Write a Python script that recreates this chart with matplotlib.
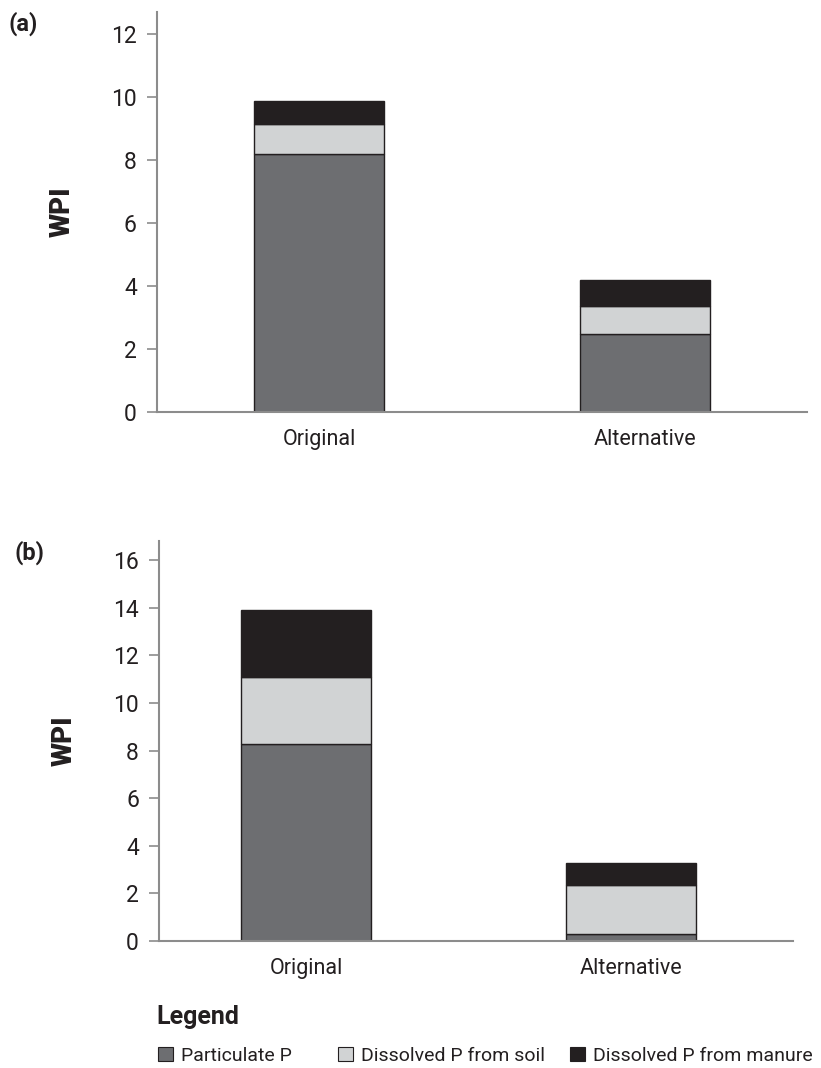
import numpy as np
import matplotlib.pyplot as plt
from matplotlib.patches import Patch

plt.rcParams['font.family'] = ['Roboto', 'DejaVu Sans']

# data
categories = ['Original', 'Alternative']
series = ['Particulate P', 'Dissolved P from soil', 'Dissolved P from manure']
colors = ['#6d6e71', '#d1d3d4', '#231f20']

a_particulate = [8.18, 2.48]
a_soil = [0.96, 0.88]
a_manure = [0.74, 0.83]

b_particulate = [8.26, 0.28]
b_soil = [2.84, 2.07]
b_manure = [2.80, 0.94]

a_ticks = [0, 2, 4, 6, 8, 10, 12]
b_ticks = [0, 2, 4, 6, 8, 10, 12, 14, 16]

axis_col = '#8c8c8c'
edge_col = '#231f20'

fig = plt.figure(figsize=(8.21, 10.68), dpi=100)
ax_a = fig.add_axes([0.1912, 0.6142, 0.7918, 0.3746])
ax_b = fig.add_axes([0.1937, 0.1189, 0.7722, 0.3745])


def draw_panel(ax, vals, ticks, ytop, xleft, letter):
    x = np.arange(len(categories))
    bottom = np.zeros(len(categories))
    for v, c in zip(vals, colors):
        ax.bar(x, v, width=0.4, bottom=bottom, color=c,
               edgecolor=edge_col, linewidth=1.0)
        bottom += np.array(v)
    ax.set_xlim(xleft, 1.5)
    ax.set_ylim(0, ytop)
    ax.set_yticks(ticks)
    ax.set_xticks(x)
    ax.set_xticklabels(categories)
    for s in ['top', 'right']:
        ax.spines[s].set_visible(False)
    for s in ['left', 'bottom']:
        ax.spines[s].set_color(axis_col)
        ax.spines[s].set_linewidth(1.5)
    ax.tick_params(axis='y', direction='out', length=7.5, width=1.2,
                   color=axis_col, labelsize=16.5, pad=7, labelcolor='#231f20')
    ax.tick_params(axis='x', length=0, labelsize=15.5, pad=12, labelcolor='#231f20')
    ax.set_ylabel('WPI', fontsize=20, fontweight='black', color='#231f20')
    # place the label at a fixed pixel offset left of the axis
    w_px = ax.get_position().width * 821
    ax.yaxis.set_label_coords(-81 / w_px, 0.5)
    ax.text(-0.228, 1.0, letter, transform=ax.transAxes, fontsize=17,
            fontweight='bold', ha='left', va='top', color='#231f20')


draw_panel(ax_a, [a_particulate, a_soil, a_manure], a_ticks, 12.7, -0.5, '(a)')
draw_panel(ax_b, [b_particulate, b_soil, b_manure], b_ticks, 16.8, -0.453, '(b)')

# legend, one entry per box so the gaps can differ like in the original
fig.text(156 / 821, 1 - 1024 / 1068, 'Legend', fontsize=18, fontweight='bold',
         ha='left', va='baseline', color='#231f20')
legend_x = [158, 338, 570]
for c, name, lx in zip(colors, series, legend_x):
    h = Patch(facecolor=c, edgecolor=edge_col, linewidth=0.8)
    fig.legend([h], [name], loc='center left', frameon=False,
               bbox_to_anchor=(lx / 821, 1 - 1056 / 1068), fontsize=14,
               handlelength=0.75, handleheight=0.75, handletextpad=0.45,
               borderpad=0, borderaxespad=0, labelcolor='#231f20')

fig.savefig('out.png', dpi=100)
